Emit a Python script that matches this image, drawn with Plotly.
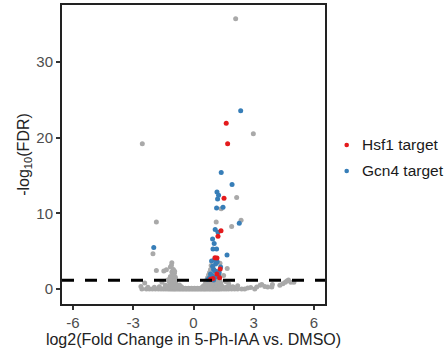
import plotly.graph_objects as go

# ---- data ----
gray_x = [
    # outliers
    2.10, 2.98, -2.55, 2.15, 1.38, 1.13, 1.90, 2.37, -1.85, -2.02, 1.32, 1.68,
    # band y=0
    -2.57, -2.35, -2.20, -2.05, -1.90, -1.75, -1.62, -1.50, -1.38, -1.27, -1.18, -1.10,
    -1.02, -0.95, -0.88, -0.80, -0.72, -0.65, -0.57, -0.50, -0.42, -0.35, -0.27, -0.20,
    -0.12, -0.05, 0.03, 0.10, 0.18, 0.25, 0.33, 0.40, 0.48, 0.55, 0.62, 0.70, 0.78,
    0.85, 0.93, 1.00, 1.08, 1.15, 1.23, 1.30, 1.40, 1.52, 1.63, 1.75, 1.90, 2.05,
    2.20, 2.40, 2.55, 3.05,
    # band y~0.06
    -1.16, -1.06, -0.91, -0.76, -0.61, -0.46, -0.31, -0.16, -0.01, 0.14, 0.29, 0.44,
    0.59, 0.74, 0.89, 1.04, 1.19, 1.34,
    # band y~0.12
    -1.45, -1.20, -1.08, -0.98, -0.90, -0.82, -0.70, -0.55, -0.40, -0.25, -0.10, 0.05,
    0.20, 0.35, 0.50, 0.60, 0.72, 0.83, 0.92, 1.02, 1.12, 1.22, 1.35, 1.50, 1.70, 2.85,
    # band y~0.18
    -1.24, -1.11, -0.99, -0.87, -0.78, -0.64, 0.41, 0.53, 0.66, 0.81, 0.95, 1.10, 1.27,
    # band y~0.25
    -1.30, -1.15, -1.02, -0.93, -0.85, -0.75, 0.45, 0.58, 0.68, 0.78, 0.88, 0.98, 1.08,
    1.20, 1.32, 1.45, 1.62, 1.85, 2.00, 3.15, 3.70, 3.90, -1.70, -2.27, -1.95, -2.62,
    # left lobe
    -1.20, -1.05, -0.92, -0.80, -1.12, -0.98, -0.86, -1.20, -1.05, -0.92, -1.10, -0.95,
    -1.02, -0.90, -1.15, -1.00, -0.95, -1.08, -1.00, -1.15, -1.08, -1.35, -1.48, -1.85,
    -1.57, -1.32, -2.43, -0.70, -0.60, -1.40, -1.28, -1.13, -0.97, -1.06, -0.88, -1.18,
    -1.02, -0.94, -1.10,
    # right lobe
    0.50, 0.62, 0.75, 0.88, 1.00, 1.12, 1.25, 1.40, 0.60, 0.72, 0.85, 0.98, 1.10, 1.22,
    1.35, 0.65, 0.78, 0.90, 1.05, 1.18, 1.32, 0.70, 0.82, 0.95, 1.08, 1.22, 0.75, 0.88,
    1.02, 1.15, 0.80, 0.92, 1.05, 0.85, 0.98, 0.88, 1.50, 1.60, 1.75, 2.20, 1.95,
    0.56, 0.69, 0.94, 1.17, 1.30, 0.84, 1.00,
    # right tail
    3.32, 3.40, 3.93, 4.30, 4.45, 4.57, 4.65, 4.73, 4.85, 5.00, 2.70, 3.55,
]
gray_y = [
    35.7, 20.5, 19.2, 12.1, 10.6, 8.86, 8.25, 9.1, 8.85, 4.66, 3.4, 2.7,
    0.0, 0.0, 0.0, 0.0, 0.0, 0.0, 0.0, 0.0, 0.0, 0.0, 0.0, 0.0,
    0.0, 0.0, 0.0, 0.0, 0.0, 0.0, 0.0, 0.0, 0.0, 0.0, 0.0, 0.0,
    0.0, 0.0, 0.0, 0.0, 0.0, 0.0, 0.0, 0.0, 0.0, 0.0, 0.0, 0.0, 0.0,
    0.0, 0.0, 0.0, 0.0, 0.0, 0.0, 0.0, 0.0, 0.0, 0.0, 0.0, 0.0, 0.0,
    0.0, 0.0, 0.0, 0.0,
    0.06, 0.06, 0.06, 0.06, 0.06, 0.06, 0.06, 0.06, 0.06, 0.06, 0.06, 0.06,
    0.06, 0.06, 0.06, 0.06, 0.06, 0.06,
    0.12, 0.12, 0.12, 0.12, 0.12, 0.12, 0.12, 0.12, 0.12, 0.12, 0.12, 0.12,
    0.12, 0.12, 0.12, 0.12, 0.12, 0.12, 0.12, 0.12, 0.12, 0.12, 0.12, 0.12, 0.12, 0.2,
    0.18, 0.18, 0.18, 0.18, 0.18, 0.18, 0.18, 0.18, 0.18, 0.18, 0.18, 0.18, 0.18,
    0.25, 0.25, 0.25, 0.25, 0.25, 0.25, 0.25, 0.25, 0.25, 0.25, 0.25, 0.25, 0.25,
    0.25, 0.25, 0.25, 0.25, 0.25, 0.25, 0.27, 0.27, 0.27, 0.30, 0.25, 0.25, 0.35,
    0.45, 0.50, 0.45, 0.40, 0.70, 0.72, 0.65, 0.95, 0.95, 0.90, 1.20, 1.25,
    1.50, 1.55, 1.65, 1.85, 2.10, 2.25, 2.60, 2.90, 3.46, 2.55, 2.40, 2.46,
    0.90, 0.30, 0.80, 0.55, 0.30, 0.50, 1.20, 0.35, 0.35, 0.60, 1.05, 1.35,
    1.70, 2.35, 3.10,
    0.45, 0.50, 0.55, 0.50, 0.55, 0.50, 0.55, 0.45, 0.80, 0.85, 0.90, 0.85, 0.90, 0.85,
    0.80, 1.15, 1.20, 1.10, 1.15, 1.20, 1.10, 1.50, 1.55, 1.50, 1.45, 1.55, 1.85, 1.90,
    1.80, 1.85, 2.20, 2.30, 2.20, 2.60, 2.70, 3.10, 1.80, 1.00, 0.70, 0.45, 0.30,
    0.35, 0.65, 0.70, 0.70, 0.40, 1.35, 2.50,
    0.50, 0.60, 0.60, 0.50, 0.70, 0.90, 1.05, 1.20, 0.90, 0.90, 0.15, 0.35,
]

gcn4_x = [2.35, 1.38, 1.92, 1.17, 1.25, 1.20, 1.15, 1.47, 2.28, 1.08, 1.22, 0.95, 1.03,
          0.97, 1.15, -1.98, 1.67, 0.90, 1.10, 1.35, 1.00, 1.20, 1.10, 0.72, 0.85, 1.25,
          0.95, 1.05, 1.08, 0.92, 1.18, 0.80, 1.28, 1.00]
gcn4_y = [23.55, 15.4, 13.8, 12.8, 12.4, 11.9, 10.7, 10.8, 8.7, 7.85, 7.5, 6.6, 6.0,
          5.3, 5.3, 5.5, 4.5, 3.7, 3.3, 2.9, 2.6, 2.3, 1.6, 1.27, 2.0, 1.9,
          3.0, 3.9, 2.4, 1.8, 3.6, 1.5, 2.2, 1.2]

hsf1_x = [1.63, 1.70, 1.52, 1.37, 1.22, 1.07, 1.17, 1.33, 1.17, 0.97, 0.85, 1.30]
hsf1_y = [21.9, 19.2, 12.0, 7.7, 6.97, 4.15, 4.10, 2.65, 2.0, 1.4, 1.3, 1.5]

threshold = 1.15

x_ticks = [-6, -3, 0, 3, 6]
y_ticks = [0, 10, 20, 30]

legend_names = ["Hsf1 target", "Gcn4 target"]
legend_colors = ["#E41A1C", "#377EB8"]

FONT = "Liberation Sans, Arial, sans-serif"

fig = go.Figure()
fig.add_trace(go.Scatter(x=gray_x, y=gray_y, mode="markers", showlegend=False,
                         marker=dict(color="#A9A9A9", size=5, line=dict(width=0))))
fig.add_trace(go.Scatter(x=gcn4_x, y=gcn4_y, mode="markers", name=legend_names[1],
                         showlegend=False,
                         marker=dict(color=legend_colors[1], size=5, line=dict(width=0))))
fig.add_trace(go.Scatter(x=hsf1_x, y=hsf1_y, mode="markers", name=legend_names[0],
                         showlegend=False,
                         marker=dict(color=legend_colors[0], size=5, line=dict(width=0))))

fig.add_shape(type="line", xref="paper", x0=0, x1=1, yref="y", y0=threshold, y1=threshold,
              line=dict(color="black", width=3, dash="12px,11px"))

# manual legend (ggplot-style: small dot, close text)
legend_y = [0.532, 0.445]
for name, col, ly in zip(legend_names, legend_colors, legend_y):
    fig.add_shape(type="circle", xref="paper", yref="paper",
                  xsizemode="pixel", ysizemode="pixel",
                  xanchor=1.0825, yanchor=ly, x0=-2.3, x1=2.3, y0=-2.3, y1=2.3,
                  fillcolor=col, line=dict(width=0))
    fig.add_annotation(text=name, xref="paper", yref="paper", x=1.132, y=ly,
                       xanchor="left", yanchor="middle", showarrow=False,
                       font=dict(family=FONT, size=15.5, color="#1A1A1A"))

axis_common = dict(showline=True, linecolor="#222222", linewidth=2, mirror=True,
                   showgrid=False, zeroline=False, ticks="outside", ticklen=4,
                   tickwidth=1.5, tickcolor="#333333", automargin=False,
                   tickfont=dict(family=FONT, size=15, color="#4D4D4D"))

fig.update_xaxes(range=[-6.55, 6.55], tickvals=x_ticks, ticktext=[str(v) for v in x_ticks],
                 title=dict(text="log2(Fold Change in 5-Ph-IAA vs. DMSO)",
                            font=dict(family=FONT, size=16, color="#222222"), standoff=4),
                 **axis_common)
fig.update_yaxes(range=[-1.97, 37.5], tickvals=y_ticks, ticktext=[str(v) for v in y_ticks],
                 title=dict(text="-log<sub>10</sub>(FDR)",
                            font=dict(family=FONT, size=16, color="#222222"), standoff=3),
                 **axis_common)

fig.update_layout(
    width=445, height=356,
    margin=dict(l=62, r=120, t=5, b=52, autoexpand=False),
    plot_bgcolor="white", paper_bgcolor="white",
    showlegend=False,
)

fig.write_html("out.html", config={"displayModeBar": False},
               post_script="document.body.style.margin='0px';")
